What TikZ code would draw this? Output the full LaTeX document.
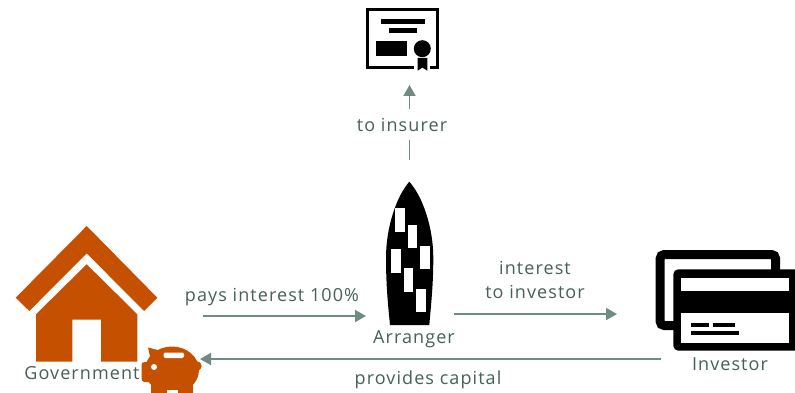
\documentclass[tikz,border=0pt]{standalone}
\usepackage{fontspec}
\setmainfont[LetterSpace=6]{Open Sans}
\usetikzlibrary{arrows.meta}
\definecolor{flowline}{HTML}{6E8C84}
\definecolor{flowtext}{HTML}{46605A}
\definecolor{rust}{HTML}{C55000}
\newcommand{\figurescale}{1pt}
\newcommand{\makewindow}[2]{
	\fill[white] (#1,#2) rectangle ++(9.6,23.4);
}
\tikzset{
	flow/.style={draw=flowline,line width=1.8pt,-{Triangle[length=11pt,width=12pt]}},
	caption/.style={text=flowtext,font=\fontsize{18}{24}\selectfont,align=center,inner sep=1pt},
}

\begin{document}
\begin{tikzpicture}[x=\figurescale,y=-\figurescale]
	\clip (0,0) rectangle (795,393);
	\fill[white] (0,0) rectangle (795,393);

	\coordinate (certificate) at (409.5,85);
	\coordinate (arrangerTop) at (409.5,160);
	\coordinate (arrangerLeft) at (366,316);
	\coordinate (governmentRight) at (203,316);
	\coordinate (arrangerRight) at (454,314);
	\coordinate (investorLeft) at (617,314);
	\coordinate (investorOut) at (661,359);
	\coordinate (piggyRight) at (200,359);

	% certificate
	\draw[line width=3.3pt] (414,67.4) -- (367.6,67.4) -- (367.6,9.6) -- (437.4,9.6) -- (437.4,67.4) -- (430,67.4);
	\fill (381,19) rectangle (425,23.7);
	\fill (389,28.3) rectangle (417.3,33);
	\fill (376,40.7) rectangle (406.7,55.7);
	\fill (422.3,48.7) circle (8.5);
	\fill (417.7,58) -- (417.7,70.7) -- (422.3,67.5) -- (427.3,70.7) -- (427.3,58) -- cycle;

	% tower
	\fill (409.3,181.7) .. controls (396,197) and (386,228) .. (386,258)
		.. controls (386,285) and (388,305) .. (390,325) -- (429.3,325)
		.. controls (431,305) and (433.3,285) .. (433.3,258)
		.. controls (433.3,228) and (423,197) .. (409.3,181.7) -- cycle;
	\makewindow{395}{208.3}
	\makewindow{407.5}{225}
	\makewindow{420}{245.7}
	\makewindow{391}{249.3}
	\makewindow{403.7}{268.3}
	\makewindow{416}{289}

	% house
	\fill[rust] (86.7,226) -- (157.3,297.7) -- (144,311) -- (86.7,253.3) -- (29.3,311) -- (15.7,297.7) -- cycle;
	\fill[rust] (86.7,264.3) -- (137.3,314.3) -- (137.3,361.7) -- (101,361.7) -- (101,319.7) -- (72.3,319.7) -- (72.3,361.7) -- (36,361.7) -- (36,314.3) -- cycle;

	% piggy bank
	\fill[rust] (172,370) ellipse (27 and 23.5);
	\fill[rust] (148,347.5) -- (166,352) -- (160,372) -- (151,361) -- cycle;
	\fill[rust,rounded corners=3pt] (141.5,362) rectangle (160,382);
	\fill[rust] (151,378) rectangle (167,393);
	\fill[rust] (178,378) rectangle (193,393);
	\fill[rust] (197,366) circle (4.7);
	\fill[white] (166.7,390) rectangle (178.3,393);
	\fill[white] (154,367) circle (3);
	\fill[white,rounded corners=2pt] (163.5,352.5) rectangle (184,358);

	% cards
	\draw[line width=9pt,rounded corners=4pt] (677,325.5) -- (660.2,325.5) -- (660.2,254.5) -- (775.5,254.5) -- (775.5,275);
	\fill[rounded corners=5pt] (673.3,269.3) rectangle (800,350.7);
	\fill[white] (681,278.3) rectangle (789.3,291);
	\fill[white] (681,313.3) rectangle (789.3,342.7);
	\fill (691,323.3) rectangle (709.3,327.3);
	\fill (712.7,323.3) rectangle (735.3,327.3);
	\fill (691,330.7) rectangle (738.7,335);

	\draw[flow] (arrangerTop) -- (certificate) node[pos=0.47,caption,fill=white,inner ysep=9pt,xshift=-7.5pt] (toInsurer) {to insurer};
	\draw[flow] (governmentRight) -- (arrangerLeft);
	\draw[flow] (arrangerRight) -- (investorLeft);
	\draw[flow] (investorOut) -- (piggyRight);

	\node[caption] (payLabel) at (272,297) {pays interest 100\%};
	\node[caption] (interestLabel) at (535,280) {interest\\to investor};
	\node[caption] (capitalLabel) at (428,380) {provides capital};
	\node[caption] (arrangerLabel) at (414,339) {Arranger};
	\node[caption] (investorLabel) at (730,364) {Investor};
	\node[caption] (governmentLabel) at (82,373) {Government};
\end{tikzpicture}
\end{document}
